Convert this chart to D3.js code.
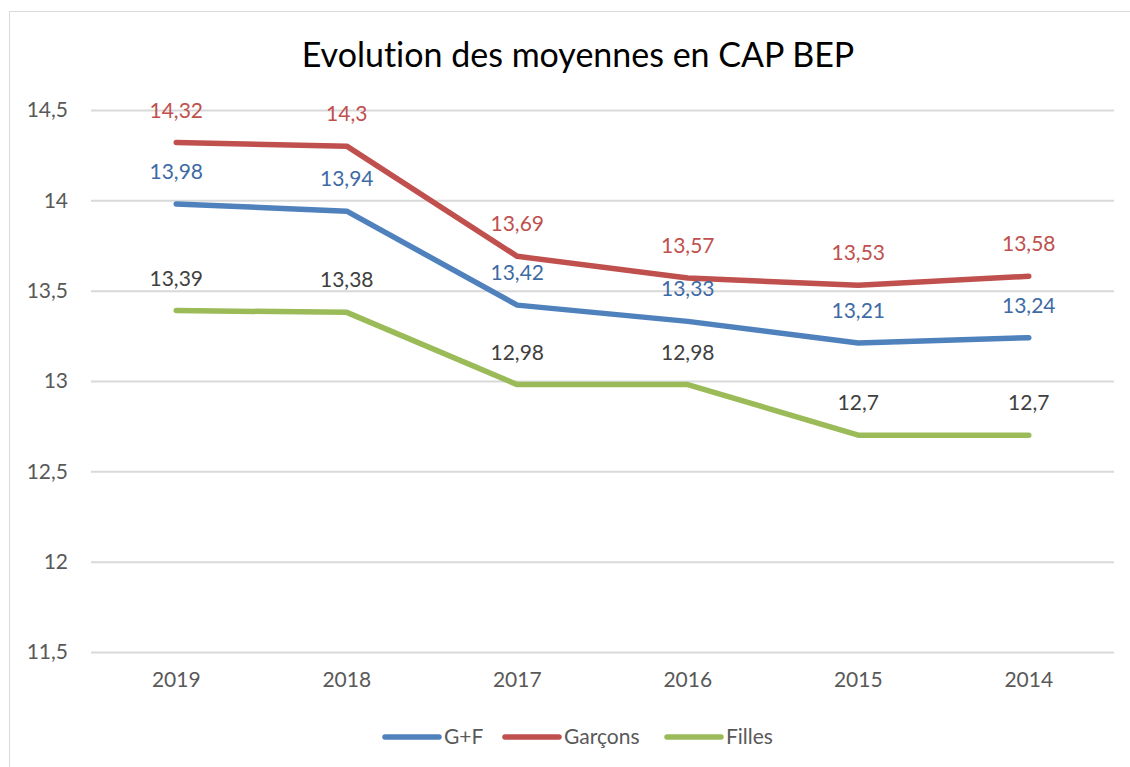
<!DOCTYPE html>
<html><head><meta charset="utf-8">
<script src="https://cdn.jsdelivr.net/npm/d3@7"></script>
<style>body{margin:0;background:#fff}svg{display:block}text{font-variant-ligatures:none;font-feature-settings:"liga" 0}</style>
</head><body>
<svg id="c" width="1130" height="767"></svg>
<script>
const categories = ["2019","2018","2017","2016","2015","2014"];
const seriesNames = ["G+F","Garçons","Filles"];
const gf = [13.98,13.94,13.42,13.33,13.21,13.24];
const garcons = [14.32,14.3,13.69,13.57,13.53,13.58];
const filles = [13.39,13.38,12.98,12.98,12.7,12.7];
const yTicks = [11.5,12,12.5,13,13.5,14,14.5];
const colors = ["#4F81BD","#C0504D","#9BBB59"];
const labelColors = ["#3E6AA5","#C0504D","#404040"];
const font = "Lato, 'Open Sans', sans-serif";

const svg = d3.select("#c");
svg.append("rect").attr("x",9.5).attr("y",11.5).attr("width",1140).attr("height",780)
  .attr("fill","#fff").attr("stroke","#d9d9d9").attr("stroke-width",1);

const x = d3.scaleBand().domain(categories).range([91,1114]);
const y = d3.scaleLinear().domain([11.5,14.5]).range([652,110]);

svg.append("text").attr("x",578).attr("y",67).attr("text-anchor","middle")
  .attr("font-family",font).attr("font-size",34).attr("fill","#000")
  .text("Evolution des moyennes en CAP BEP");

const fmt = v => String(v).replace(".", ",");

const yAxis = svg.append("g").attr("transform","translate(91,0)")
  .call(d3.axisLeft(y).tickValues(yTicks).tickSize(-1023).tickFormat(fmt).tickPadding(23));
yAxis.select(".domain").remove();
yAxis.selectAll("line").attr("stroke","#d9d9d9").attr("stroke-width",2);
yAxis.selectAll("text").attr("font-family",font).attr("font-size",21).attr("fill","#595959");

const xAxis = svg.append("g").attr("transform","translate(0,652)")
  .call(d3.axisBottom(x).tickSize(0).tickPadding(20));
xAxis.select(".domain").remove();
xAxis.selectAll("text").attr("font-family",font).attr("font-size",21).attr("fill","#595959");

const allSeries = [gf, garcons, filles];
const line = d3.line().x((d,i)=>x(categories[i])+x.bandwidth()/2).y(d=>y(d));
allSeries.forEach((s,k)=>{
  svg.append("path").datum(s).attr("d",line).attr("fill","none")
    .attr("stroke",colors[k]).attr("stroke-width",5.5)
    .attr("stroke-linecap","round").attr("stroke-linejoin","round");
});
allSeries.forEach((s,k)=>{
  svg.append("g").selectAll("text").data(s).join("text")
    .attr("x",(d,i)=>x(categories[i])+x.bandwidth()/2)
    .attr("y",d=>y(d)-25)
    .attr("text-anchor","middle")
    .attr("font-family",font).attr("font-size",21).attr("fill",labelColors[k])
    .text(fmt);
});

// legend
const legendX = [385,505,667];
seriesNames.forEach((n,k)=>{
  const g = svg.append("g");
  g.append("line").attr("x1",legendX[k]).attr("x2",legendX[k]+54).attr("y1",737).attr("y2",737)
    .attr("stroke",colors[k]).attr("stroke-width",5.5).attr("stroke-linecap","round");
  g.append("text").attr("x",legendX[k]+59).attr("y",744).attr("font-family",font)
    .attr("font-size",21).attr("fill","#595959").text(n);
});
</script>
</body></html>
